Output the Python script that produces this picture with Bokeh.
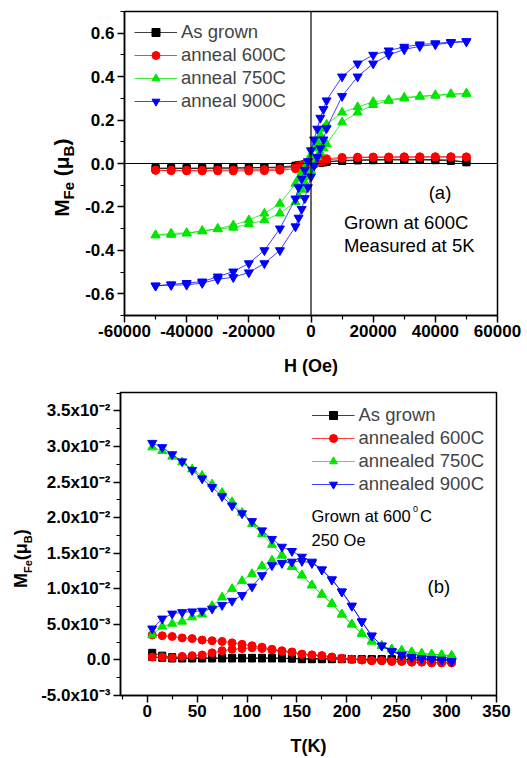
from math import pi
from bokeh.plotting import figure
from bokeh.models import (Span, Label, Legend, LegendItem, FixedTicker,
                          CustomJSTickFormatter, Range1d)
from bokeh.core.properties import value
from bokeh.layouts import column, row
from bokeh.embed import file_html
from bokeh.resources import INLINE

FONT = "Liberation Sans"

# ---------------- panel (a): M-H loops at 5 K ----------------
h_desc = [50000, 45000, 40000, 35000, 30000, 25000, 20000, 15000, 10000, 5000,
          4000, 3000, 2000, 1000, 0, -1000, -2000, -3000, -4000, -5000,
          -10000, -15000, -20000, -25000, -30000, -35000, -40000, -45000, -50000]
h_asc = list(reversed(h_desc))

black_desc = [0.006, 0.016, 0.018, 0.019, 0.019, 0.019, 0.018, 0.017, 0.014, 0.009,
              0.007, 0.005, 0.004, 0.002, 0.000, -0.002, -0.004, -0.006, -0.008, -0.010,
              -0.016, -0.018, -0.019, -0.020, -0.020, -0.021, -0.021, -0.021, -0.022]
black_asc = [-0.022, -0.023, -0.023, -0.023, -0.022, -0.022, -0.021, -0.020, -0.019, -0.014,
             -0.012, -0.010, -0.008, -0.005, -0.003, 0.000, 0.002, 0.004, 0.005, 0.007,
             0.012, 0.014, 0.015, 0.016, 0.016, 0.016, 0.015, 0.012, 0.006]
red_desc = [0.030, 0.031, 0.031, 0.031, 0.031, 0.030, 0.030, 0.029, 0.028, 0.022,
            0.020, 0.017, 0.013, 0.008, 0.004, 0.000, -0.004, -0.008, -0.012, -0.016,
            -0.025, -0.028, -0.029, -0.030, -0.030, -0.031, -0.031, -0.031, -0.031]
red_asc = [-0.031, -0.033, -0.034, -0.034, -0.034, -0.034, -0.034, -0.033, -0.031, -0.024,
           -0.021, -0.017, -0.013, -0.008, -0.004, 0.000, 0.004, 0.008, 0.011, 0.015,
           0.024, 0.027, 0.028, 0.029, 0.029, 0.029, 0.030, 0.030, 0.030]
green_desc = [0.322, 0.320, 0.315, 0.310, 0.304, 0.293, 0.284, 0.260, 0.235, 0.180,
              0.160, 0.130, 0.100, 0.070, 0.040, 0.010, -0.020, -0.040, -0.070, -0.093,
              -0.185, -0.230, -0.261, -0.284, -0.300, -0.310, -0.320, -0.322, -0.330]
green_asc = [-0.330, -0.328, -0.322, -0.312, -0.302, -0.295, -0.279, -0.261, -0.230, -0.177,
             -0.150, -0.120, -0.090, -0.060, -0.030, 0.000, 0.030, 0.050, 0.070, 0.090,
             0.190, 0.235, 0.270, 0.289, 0.300, 0.308, 0.313, 0.318, 0.322]
blue_desc = [0.562, 0.559, 0.553, 0.548, 0.537, 0.520, 0.500, 0.460, 0.400, 0.290,
             0.250, 0.210, 0.160, 0.110, 0.060, 0.010, -0.030, -0.070, -0.110, -0.162,
             -0.300, -0.400, -0.460, -0.498, -0.521, -0.544, -0.551, -0.557, -0.563]
blue_asc = [-0.563, -0.560, -0.559, -0.551, -0.533, -0.524, -0.502, -0.460, -0.400, -0.290,
            -0.250, -0.210, -0.160, -0.110, -0.060, -0.010, 0.030, 0.070, 0.110, 0.162,
            0.310, 0.400, 0.460, 0.500, 0.525, 0.540, 0.548, 0.556, 0.562]

labels_a = ["As grown", "anneal 600C", "anneal 750C", "anneal 900C"]

# ---------------- panel (b): M-T at 250 Oe ----------------
t_k = [5, 15, 25, 35, 45, 55, 65, 75, 85, 95, 105, 115, 125, 135, 145, 155,
       165, 175, 185, 195, 205, 215, 225, 235, 245, 255, 265, 275, 285, 295, 305]

black_fc = [0.0010, 0.0006, 0.0004, 0.0003, 0.0003, 0.0003, 0.0003, 0.0003, 0.0003, 0.0003,
            0.0003, 0.0003, 0.0003, 0.0003, 0.0002, 0.0002, 0.0002, 0.0002, 0.0002, 0.0002,
            0.0001, 0.0001, 0.0001, 0.0001, 0.0001, 0.0001, 0.0000, 0.0000, 0.0000, 0.0000, 0.0000]
black_zfc = [0.0004, 0.0003, 0.0002, 0.0002, 0.0002, 0.0002, 0.0002, 0.0002, 0.0002, 0.0002,
             0.0002, 0.0002, 0.0002, 0.0002, 0.0002, 0.0001, 0.0001, 0.0001, 0.0001, 0.0001,
             0.0001, 0.0001, 0.0001, 0.0001, 0.0001, 0.0000, 0.0000, 0.0000, 0.0000, 0.0000, 0.0000]
red_fc = [0.0035, 0.0034, 0.0033, 0.0031, 0.0030, 0.0028, 0.0027, 0.0026, 0.0024, 0.0022,
          0.0020, 0.0018, 0.0015, 0.0013, 0.0011, 0.0008, 0.0007, 0.0006, 0.0004, 0.0002,
          0.0001, 0.0000, -0.0001, -0.0001, -0.0002, -0.0002, -0.0003, -0.0003, -0.0004, -0.0004, -0.0004]
red_zfc = [0.0004, 0.0004, 0.0003, 0.0005, 0.0006, 0.0007, 0.0010, 0.0013, 0.0015, 0.0016,
           0.0017, 0.0016, 0.0014, 0.0012, 0.0011, 0.0008, 0.0007, 0.0006, 0.0004, 0.0002,
           0.0001, 0.0000, -0.0001, -0.0001, -0.0002, -0.0002, -0.0003, -0.0003, -0.0004, -0.0004, -0.0004]
green_fc = [0.0299, 0.0294, 0.0286, 0.0278, 0.0268, 0.0259, 0.0247, 0.0235, 0.0222, 0.0207,
            0.0191, 0.0177, 0.0162, 0.0147, 0.0131, 0.0119, 0.0105, 0.0092, 0.0079, 0.0064,
            0.0050, 0.0037, 0.0026, 0.0020, 0.0015, 0.0013, 0.0011, 0.0009, 0.0008, 0.0007, 0.0006]
green_zfc = [0.0035, 0.0047, 0.0051, 0.0054, 0.0060, 0.0064, 0.0076, 0.0088, 0.0100, 0.0111,
             0.0121, 0.0132, 0.0140, 0.0147, 0.0131, 0.0119, 0.0105, 0.0092, 0.0079, 0.0064,
             0.0050, 0.0037, 0.0026, 0.0020, 0.0015, 0.0013, 0.0011, 0.0009, 0.0008, 0.0007, 0.0006]
blue_fc = [0.0305, 0.0299, 0.0289, 0.0279, 0.0267, 0.0255, 0.0243, 0.0230, 0.0217, 0.0206,
           0.0195, 0.0182, 0.0170, 0.0159, 0.0153, 0.0145, 0.0138, 0.0127, 0.0113, 0.0096,
           0.0076, 0.0054, 0.0034, 0.0020, 0.0012, 0.0007, 0.0004, 0.0002, 0.0001, 0.0000, -0.0002]
blue_zfc = [0.0044, 0.0058, 0.0065, 0.0067, 0.0068, 0.0069, 0.0072, 0.0077, 0.0083, 0.0091,
            0.0103, 0.0119, 0.0133, 0.0136, 0.0138, 0.0139, 0.0136, 0.0127, 0.0113, 0.0096,
            0.0076, 0.0054, 0.0034, 0.0020, 0.0012, 0.0007, 0.0004, 0.0002, 0.0001, 0.0000, -0.0002]

labels_b = ["As grown", "annealed 600C", "annealed 750C", "annealed 900C"]

ytick_b_vals = [-0.005, 0.0, 0.005, 0.010, 0.015, 0.020, 0.025, 0.030, 0.035]
ytick_b_text = ["-5.0x10\u207b\u00b3", "0.0", "5.0x10\u207b\u00b3", "1.0x10\u207b\u00b2",
                "1.5x10\u207b\u00b2", "2.0x10\u207b\u00b2", "2.5x10\u207b\u00b2",
                "3.0x10\u207b\u00b2", "3.5x10\u207b\u00b2"]

colors = ["#000000", "#ff0000", "#00e600", "#0000ff"]
markers = ["square", "circle", "triangle", "inverted_triangle"]
msizes = [7, 8, 9, 9]

# ---------------- layout geometry (page px, page origin = top-left) ----------------
W = 527
H1, H2 = 378, 380
A_L, A_R, A_T, A_B = 123, 497, 11, 316       # frame of (a)
B_L, B_R, B_T, B_B = 120, 496, 392, 696      # frame of (b)
AX = (-60000, 60000); AY = (-0.7, 0.7)
BX = (-26.8, 350); BY = (-0.005, 0.0376)
SIDE1, SIDE2 = 82, 38                        # widths of the y-title strips


def conv(frame, xr, yr):
    l, r, t, b = frame
    fx = lambda px: xr[0] + (px - l) * (xr[1] - xr[0]) / (r - l)
    fy = lambda py: yr[1] - (py - t) * (yr[1] - yr[0]) / (b - t)
    return fx, fy


def style_axes(p):
    for ax in (p.xaxis[0], p.yaxis[0]):
        ax.axis_line_width = 1.5
        ax.axis_line_color = "black"
        ax.major_tick_line_width = 1.5
        ax.minor_tick_line_width = 1.2
        ax.major_tick_in = 0
        ax.major_tick_out = 7
        ax.minor_tick_in = 0
        ax.minor_tick_out = 4
        ax.major_label_text_font = FONT
        ax.major_label_text_font_style = "bold"
        ax.major_label_text_font_size = "17px"
        ax.major_label_text_color = "black"
        ax.axis_label_text_font = FONT
        ax.axis_label_text_font_style = "bold"
        ax.axis_label_text_font_size = "18px"
        ax.axis_label_text_color = "black"
    p.xgrid.visible = False
    p.ygrid.visible = False
    p.outline_line_color = "black"
    p.outline_line_width = 1.5
    p.outline_line_alpha = 1.0
    p.background_fill_color = "white"
    p.border_fill_color = "white"


def side_strip(width, height, yrange, b_top, b_bottom, fy, pieces, cx_main, cx_sub, py_start):
    """Blank strip left of a plot, vertically aligned with the plot frame (shared y range),
    holding the rotated y title with subscripts. Each piece is placed by its centre."""
    s = figure(width=width, height=height, output_backend="svg", toolbar_location=None,
               x_range=Range1d(0, width), y_range=yrange,
               x_axis_type=None, y_axis_type=None, title=None,
               min_border_left=0, min_border_right=0,
               min_border_top=b_top, min_border_bottom=b_bottom)
    s.outline_line_color = None
    s.xgrid.visible = False
    s.ygrid.visible = False
    s.background_fill_color = "white"
    s.border_fill_color = "white"
    y = py_start
    for txt, size, sub, wem in pieces:
        w = wem * size
        cy = y - w / 2
        s.text(x=[cx_sub if sub else cx_main], y=[fy(cy)], text=[txt], angle=pi / 2,
               text_align="center", text_baseline="middle", text_font=value(FONT),
               text_font_size=value(f"{size}px"), text_font_style="bold", text_color="black")
        y -= w
    return s


# ---------------- figure (a) ----------------
p1 = figure(width=W - SIDE1, height=H1, output_backend="svg", toolbar_location=None,
            x_range=Range1d(*AX), y_range=Range1d(*AY),
            min_border_left=A_L - SIDE1, min_border_right=W - A_R,
            min_border_top=A_T, min_border_bottom=H1 - A_B)
style_axes(p1)
p1.xaxis.ticker = FixedTicker(ticks=[-60000, -40000, -20000, 0, 20000, 40000, 60000],
                              minor_ticks=[-50000, -30000, -10000, 10000, 30000, 50000])
p1.xaxis.formatter = CustomJSTickFormatter(code="return tick.toFixed(0)")
p1.yaxis.ticker = FixedTicker(ticks=[-0.6, -0.4, -0.2, 0.0, 0.2, 0.4, 0.6],
                              minor_ticks=[-0.7, -0.5, -0.3, -0.1, 0.1, 0.3, 0.5, 0.7])
p1.yaxis.formatter = CustomJSTickFormatter(code="return tick.toFixed(1)")
p1.xaxis.major_label_standoff = 2
p1.yaxis.major_label_standoff = 3
p1.xaxis.axis_label = "H (Oe)"
p1.xaxis.axis_label_standoff = 16

p1.add_layout(Span(location=0, dimension="height", line_color="black", line_width=1.2))
p1.add_layout(Span(location=0, dimension="width", line_color="black", line_width=1.2))

items_a = []
for lab, col, mk, ms, md, ma in zip(labels_a, colors, markers, msizes,
                                     [black_desc, red_desc, green_desc, blue_desc],
                                     [black_asc, red_asc, green_asc, blue_asc]):
    hx = h_desc + h_asc
    my = md + ma
    lr = p1.line(hx, my, line_color=col, line_width=1, line_alpha=0.75)
    sr = p1.scatter(hx, my, marker=mk, size=ms, fill_color=col, line_color=col)
    items_a.append(LegendItem(label=lab, renderers=[lr, sr]))

leg_a = Legend(items=items_a, location="top_left", margin=10, padding=0,
               border_line_color=None, background_fill_alpha=0,
               label_text_font=FONT, label_text_font_size="18.5px",
               glyph_width=43, glyph_height=20, label_standoff=4, spacing=1)
p1.add_layout(leg_a)

fx1, fy1 = conv((A_L, A_R, A_T, A_B), AX, AY)
ann_a = [("(a)", 428, 193), ("Grown at 600C", 343, 222.5), ("Measured at 5K", 343, 245.5)]
for txt, px, py in ann_a:
    p1.add_layout(Label(x=fx1(px), y=fy1(py), text=txt, text_align="left",
                        text_baseline="alphabetic", text_font=FONT,
                        text_font_size="18.5px", text_color="black"))

s1 = side_strip(SIDE1, H1, p1.y_range, A_T, H1 - A_B, fy1,
                [("M", 21, False, 0.833), ("Fe", 15, True, 1.167), (" ", 21, False, 0.278),
                 ("(", 21, False, 0.333), ("\u03bc", 21, False, 0.611),
                 ("B", 15, True, 0.722), (")", 21, False, 0.333)],
                60.5, 68, 217)

# ---------------- figure (b) ----------------
p2 = figure(width=W - SIDE2, height=H2, output_backend="svg", toolbar_location=None,
            x_range=Range1d(*BX), y_range=Range1d(*BY),
            min_border_left=B_L - SIDE2, min_border_right=W - B_R,
            min_border_top=B_T - H1, min_border_bottom=H1 + H2 - B_B)
style_axes(p2)
p2.xaxis.ticker = FixedTicker(ticks=[0, 50, 100, 150, 200, 250, 300, 350],
                              minor_ticks=[-25, 25, 75, 125, 175, 225, 275, 325])
p2.xaxis.formatter = CustomJSTickFormatter(code="return tick.toFixed(0)")
p2.yaxis.ticker = FixedTicker(ticks=ytick_b_vals,
                              minor_ticks=[-0.0025, 0.0025, 0.0075, 0.0125, 0.0175,
                                           0.0225, 0.0275, 0.0325, 0.0375])
p2.yaxis.formatter = CustomJSTickFormatter(
    args=dict(vals=ytick_b_vals, labs=ytick_b_text),
    code="for (let i = 0; i < vals.length; i++) { if (Math.abs(tick - vals[i]) < 1e-9) return labs[i]; } return '';")
p2.xaxis.major_label_standoff = 2
p2.yaxis.major_label_standoff = 3
p2.xaxis.axis_label = "T(K)"
p2.xaxis.axis_label_standoff = 16

items_b = []
for lab, col, mk, ms, fc, zfc in zip(labels_b, colors, markers, msizes,
                                      [black_fc, red_fc, green_fc, blue_fc],
                                      [black_zfc, red_zfc, green_zfc, blue_zfc]):
    lz = p2.line(t_k, zfc, line_color=col, line_width=1, line_alpha=0.75)
    sz = p2.scatter(t_k, zfc, marker=mk, size=ms, fill_color=col, line_color=col)
    lf = p2.line(t_k, fc, line_color=col, line_width=1, line_alpha=0.75)
    sf = p2.scatter(t_k, fc, marker=mk, size=ms, fill_color=col, line_color=col)
    items_b.append(LegendItem(label=lab, renderers=[lf, sf]))

leg_b = Legend(items=items_b, location="top_right", margin=12, padding=0,
               border_line_color=None, background_fill_alpha=0,
               label_text_font=FONT, label_text_font_size="18.5px",
               glyph_width=43, glyph_height=20, label_standoff=4, spacing=1)
p2.add_layout(leg_b)

fx2, fy2 = conv((B_L, B_R, B_T, B_B), BX, BY)
ann_b = [("Grown at 600", 311, 516, "16.5px"), ("0", 412.5, 509, "9px"), ("C", 419.5, 516, "16.5px"),
         ("250 Oe", 311, 539.5, "16.5px"), ("(b)", 427, 587, "18.5px")]
for txt, px, py, fs in ann_b:
    p2.add_layout(Label(x=fx2(px), y=fy2(py), text=txt, text_align="left",
                        text_baseline="alphabetic", text_font=FONT,
                        text_font_size=fs, text_color="black"))

s2 = side_strip(SIDE2, H2, p2.y_range, B_T - H1, H1 + H2 - B_B, fy2,
                [("M", 18, False, 0.833), ("Fe", 11, True, 1.167), ("(", 18, False, 0.333),
                 ("\u03bc", 18, False, 0.611), ("B", 11, True, 0.722), (")", 18, False, 0.333)],
                20.5, 27, 588)

layout = column(row(s1, p1, spacing=0), row(s2, p2, spacing=0), spacing=0)
open("out.html", "w").write(file_html(layout, INLINE))
